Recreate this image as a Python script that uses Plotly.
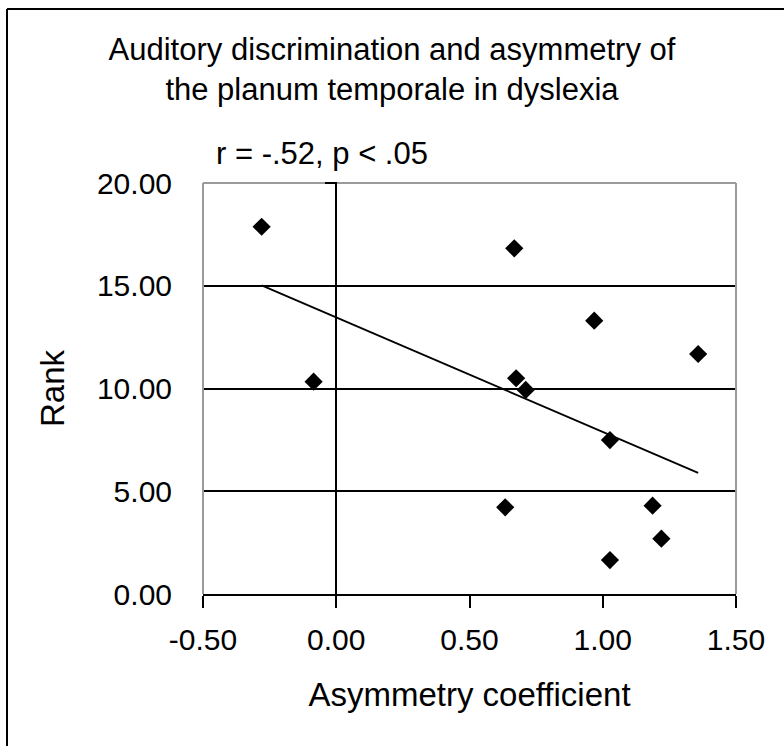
import numpy as np
import plotly.graph_objects as go

# Data
asymmetry = [-0.28, -0.085, 0.668, 0.968, 1.358, 0.675, 0.711, 1.027, 0.634, 1.187, 1.220, 1.027]
rank = [17.87, 10.33, 16.82, 13.30, 11.68, 10.50, 9.93, 7.49, 4.22, 4.30, 2.69, 1.65]

title_text = "Auditory discrimination and asymmetry of<br>the planum temporale in dyslexia"
stat_text = "r = -.52, p < .05"
x_title = "Asymmetry coefficient"
y_title = "Rank"
x_ticks = [-0.5, 0.0, 0.5, 1.0, 1.5]
x_tick_labels = ["-0.50", "0.00", "0.50", "1.00", "1.50"]
y_ticks = [0, 5, 10, 15, 20]
y_tick_labels = ["0.00", "5.00", "10.00", "15.00", "20.00"]

# Linear trend line (least squares)
slope, intercept = np.polyfit(asymmetry, rank, 1)
tx = [min(asymmetry), max(asymmetry)]
ty = [slope * v + intercept for v in tx]

FONT = "Arial, Liberation Sans, sans-serif"

fig = go.Figure()
fig.add_trace(go.Scatter(x=tx, y=ty, mode="lines",
                         line=dict(color="black", width=1.8),
                         showlegend=False, hoverinfo="skip"))
fig.add_trace(go.Scatter(x=asymmetry, y=rank, mode="markers",
                         marker=dict(symbol="diamond", size=14, color="black"),
                         showlegend=False))

W, H = 784, 746
L, R, T, B = 203, 48, 183, 152
pw = W - L - R
ph = H - T - B

fig.update_layout(
    width=W, height=H,
    margin=dict(l=L, r=R, t=T, b=B),
    paper_bgcolor="white", plot_bgcolor="white",
    font=dict(family=FONT, size=30, color="black"),
    title=dict(text=title_text, x=0.5, xref="container", xanchor="center",
               y=1 - 60 / H, yref="container", yanchor="middle",
               font=dict(family=FONT, size=31, color="black")),
    xaxis=dict(range=[-0.5, 1.5], tickvals=x_ticks, ticktext=x_tick_labels,
               showgrid=False, zeroline=True, zerolinecolor="black", zerolinewidth=2,
               showline=True, linecolor="black", linewidth=2,
               ticks="outside", ticklen=12, tickwidth=2, tickcolor="black",
               ticklabelstandoff=6,
               title=dict(text=x_title, standoff=28, font=dict(size=33)),
               fixedrange=True),
    yaxis=dict(range=[0, 20], tickvals=y_ticks, ticktext=y_tick_labels,
               showgrid=True, gridcolor="black", gridwidth=2,
               zeroline=False, showline=False, ticks="",
               ticklabelstandoff=30,
               title=dict(text=y_title, standoff=22, font=dict(size=33)),
               fixedrange=True),
)

shapes = []
# plot-area border (grey): top, left, right
for (x0, y0, x1, y1) in [(0, 1, 1, 1), (0, 0, 0, 1), (1, 0, 1, 1)]:
    shapes.append(dict(type="line", xref="paper", yref="paper",
                       x0=x0, y0=y0, x1=x1, y1=y1,
                       line=dict(color="#9a9a9a", width=2), layer="above"))
# small tick at the top of the y axis (x=0)
shapes.append(dict(type="line", xref="paper", yref="paper",
                   x0=(337 - 12 - L) / pw, x1=(337 - L) / pw, y0=1, y1=1,
                   line=dict(color="black", width=2), layer="above"))
# outer chart frame (black)
fx = (7 - L) / pw
fy = (H - B - 9) / ph
shapes.append(dict(type="line", xref="paper", yref="paper", x0=fx, x1=fx, y0=-1, y1=fy,
                   line=dict(color="black", width=2)))
shapes.append(dict(type="line", xref="paper", yref="paper", x0=fx, x1=2, y0=fy, y1=fy,
                   line=dict(color="black", width=2)))
fig.update_layout(shapes=shapes)

fig.add_annotation(text=stat_text, xref="paper", yref="paper",
                   x=(322 - L) / pw, y=(H - B - 153) / ph,
                   xanchor="center", yanchor="middle", showarrow=False,
                   font=dict(family=FONT, size=31, color="black"))

fig.write_html("out.html")
